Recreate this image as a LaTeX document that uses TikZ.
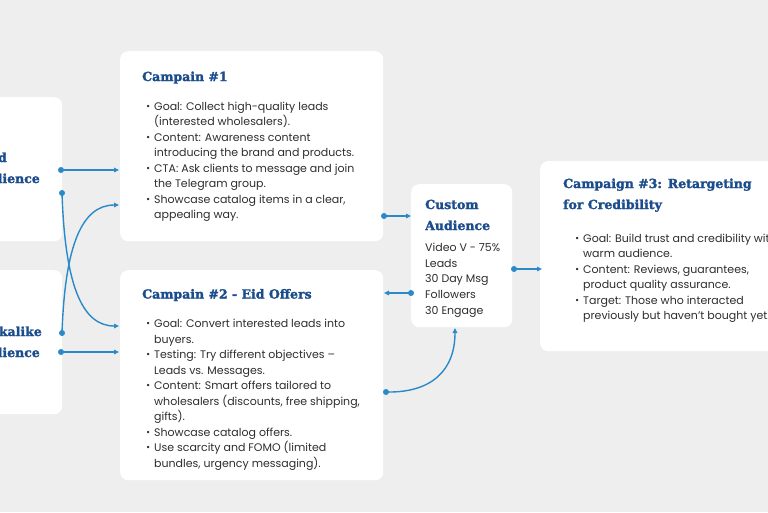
\documentclass[tikz,border=0pt]{standalone}
\usepackage{fontspec}
\setmainfont{Poppins}
\newfontfamily\headfont{DejaVu Serif Bold}[FakeBold=1.6]
\newfontfamily\symf{DejaVu Sans}
\usetikzlibrary{arrows.meta}
\definecolor{bgc}{HTML}{EEEEEE}
\definecolor{headblue}{HTML}{1B4C8C}
\definecolor{bodyc}{HTML}{2E2E2E}
\definecolor{linkc}{HTML}{2A89C9}
\newcommand\bu{\llap{\raisebox{0.1ex}{\symf\fontsize{8}{8}\selectfont •}\hspace{3.5pt}}}
\tikzset{
  box/.style={fill=white, rounded corners=8pt, draw=none, inner sep=0pt, anchor=north west},
  head/.style={font=\headfont\fontsize{12.5}{14}\selectfont, text=headblue, inner sep=0pt, anchor=base west},
  body/.style={font=\fontsize{11}{13}\selectfont, text=bodyc, inner sep=0pt, anchor=base west},
  link/.style={draw=linkc, line width=1.4pt, -{Triangle[length=5pt,width=4.5pt]}},
  dotc/.style={fill=linkc}
}
\begin{document}
\begin{tikzpicture}[x=1pt,y=-1pt]
\useasboundingbox (0,0) rectangle (768,512);
\clip (0,0) rectangle (768,512);
\fill[bgc] (0,0) rectangle (768,512);
% boxes
\node[box, minimum width=90pt, minimum height=144pt] (lb1) at (-28,97) {};
\node[box, minimum width=90pt, minimum height=144pt] (lb2) at (-28,270) {};
\node[box, minimum width=263pt, minimum height=190pt] (c1) at (120,51) {};
\node[box, minimum width=263pt, minimum height=210pt] (c2) at (120,270) {};
\node[box, minimum width=101pt, minimum height=143pt] (ca) at (411,184) {};
\node[box, minimum width=260pt, minimum height=190pt] (c3) at (540,161) {};
% left fragments
\node[head, anchor=base east] (lb1a) at (7,162) {d};
\node[head, anchor=base east] (lb1b) at (40,183) {dience};
\node[head, anchor=base east] (lb2a) at (42,336) {kalike};
\node[head, anchor=base east] (lb2b) at (40,357) {dience};
% headings
\node[head] (c1h) at (142,81) {Campain \#1};
\node[head] (c2h) at (142,298.5) {Campain \#2 - Eid Offers};
\node[head] (cah1) at (425,209) {Custom};
\node[head] (cah2) at (425,230) {Audience};
\node[head] (c3h1) at (563,188) {Campaign \#3: Retargeting};
\node[head] (c3h2) at (563,209) {for Credibility};
% bodies
\foreach \t [count=\i] in {{\bu Goal: Collect high-quality leads},{(interested wholesalers).},{\bu Content: Awareness content},{introducing the brand and products.},{\bu CTA: Ask clients to message and join},{the Telegram group.},{\bu Showcase catalog items in a clear,},{appealing way.}}
  \node[body] (c1l\i) at (154,{110+15.55*(\i-1)}) {\t};
\foreach \t [count=\i] in {{\bu Goal: Convert interested leads into},{buyers.},{\bu Testing: Try different objectives –},{Leads vs. Messages.},{\bu Content: Smart offers tailored to},{wholesalers (discounts, free shipping,},{gifts).},{\bu Showcase catalog offers.},{\bu Use scarcity and FOMO (limited},{bundles, urgency messaging).}}
  \node[body] (c2l\i) at (154,{327.5+15.5*(\i-1)}) {\t};
\foreach \t [count=\i] in {{Video V - 75\%},{Leads},{30 Day Msg},{Followers},{30 Engage}}
  \node[body] (cal\i) at (425,{251.3+15.7*(\i-1)}) {\t};
\foreach \t [count=\i] in {{\bu Goal: Build trust and credibility with},{warm audience.},{\bu Content: Reviews, guarantees,},{product quality assurance.},{\bu Target: Those who interacted},{previously but haven’t bought yet.}}
  \node[body] (c3l\i) at (583,{242+15.55*(\i-1)}) {\t};
% connector ends
\coordinate (p1s) at (61,170);  \coordinate (p1e) at (119,170);
\coordinate (p2s) at (62,193);  \coordinate (p2e) at (119,326);
\coordinate (p3s) at (62,333);  \coordinate (p3e) at (119,205);
\coordinate (p4s) at (61,352);  \coordinate (p4e) at (119,352);
\coordinate (p5s) at (384,216); \coordinate (p5e) at (411,216);
\coordinate (p6s) at (411,293); \coordinate (p6e) at (384,293);
\coordinate (p7s) at (386,392); \coordinate (p7e) at (455,328);
\coordinate (p8s) at (514,269); \coordinate (p8e) at (542,269);
% connectors
\draw[link] (p1s) -- (p1e);
\draw[link] (p2s) .. controls (65,285) and (82,326) .. (p2e);
\draw[link] (p3s) .. controls (65,245) and (82,205) .. (p3e);
\draw[link] (p4s) -- (p4e);
\draw[link] (p5s) -- (p5e);
\draw[link] (p6s) -- (p6e);
\draw[link] (p7s) .. controls (432,393) and (455,370) .. (p7e);
\draw[link] (p8s) -- (p8e);
\foreach \p in {p1s,p2s,p3s,p4s,p5s,p6s,p7s,p8s}
  \fill[dotc] (\p) circle (3pt);
\end{tikzpicture}
\end{document}
